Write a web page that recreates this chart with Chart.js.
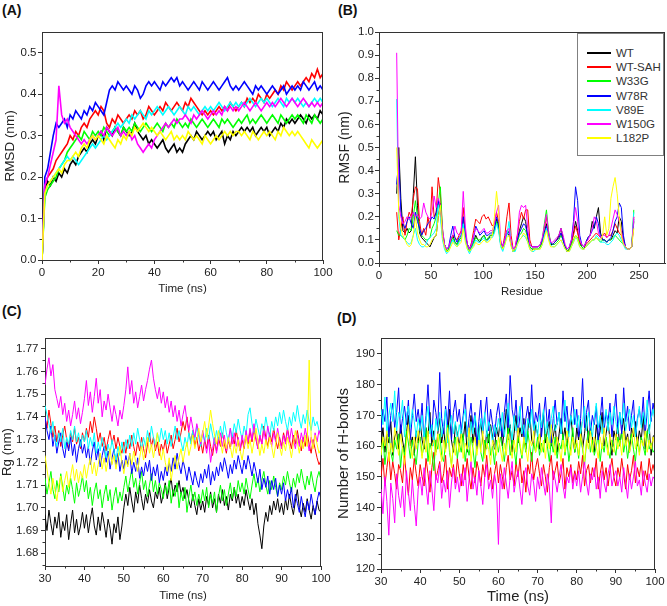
<!DOCTYPE html>
<html><head><meta charset="utf-8">
<script src="https://cdn.jsdelivr.net/npm/chart.js@4.4.0/dist/chart.umd.min.js"></script>
<style>
html,body{margin:0;padding:0;background:#fff}
body{width:667px;height:606px;position:relative;overflow:hidden;font-family:"Liberation Sans",Arial,sans-serif;color:#222}
canvas{position:absolute}
.plab{position:absolute;font-weight:bold;font-size:14px;line-height:16px;color:#111}
#legend{position:absolute;left:577px;top:33px;width:87px;height:123px;border:1px solid #808080;box-sizing:border-box;background:#fff}
.lrow{position:absolute;left:0;height:14px;width:85px}
.lline{position:absolute;left:9px;top:6px;width:24px;height:2px}
.ltxt{position:absolute;left:38px;top:0;font-size:11.5px;line-height:14px;color:#333;white-space:nowrap}
</style></head>
<body>
<div class="plab" style="left:2px;top:2px">(A)</div>
<div class="plab" style="left:338px;top:2px">(B)</div>
<div class="plab" style="left:2px;top:303px">(C)</div>
<div class="plab" style="left:337px;top:310px">(D)</div>
<canvas id="cA"></canvas>
<canvas id="cB"></canvas>
<canvas id="cC"></canvas>
<canvas id="cD"></canvas>
<div id="legend"></div>
<script>
// ---------- series ----------
const seriesNames = ['WT','WT-SAH','W33G','W78R','V89E','W150G','L182P'];
const seriesColors = ['#000000','#ff0000','#00ff00','#0000ff','#00ffff','#ff00ff','#ffff00'];

// ---------- (A) RMSD, time 0..100 ns step 1 ----------
const rmsdStart = 0, rmsdStep = 1;
const rmsdWT = [0.00,0.17,0.19,0.18,0.20,0.19,0.21,0.20,0.22,0.21,
0.23,0.24,0.23,0.25,0.26,0.27,0.26,0.28,0.29,0.28,
0.30,0.31,0.29,0.32,0.31,0.30,0.32,0.31,0.30,0.32,
0.31,0.30,0.31,0.33,0.31,0.30,0.29,0.30,0.28,0.29,
0.28,0.27,0.28,0.29,0.27,0.26,0.27,0.28,0.26,0.27,
0.26,0.28,0.29,0.30,0.29,0.31,0.30,0.29,0.30,0.31,
0.30,0.31,0.29,0.30,0.31,0.28,0.30,0.29,0.31,0.30,
0.31,0.32,0.31,0.32,0.31,0.32,0.30,0.31,0.32,0.31,
0.32,0.30,0.31,0.32,0.31,0.33,0.32,0.34,0.33,0.34,
0.33,0.34,0.35,0.34,0.33,0.35,0.34,0.35,0.34,0.36,0.35];
const rmsdWTSAH = [0.00,0.18,0.20,0.21,0.22,0.24,0.25,0.26,0.27,0.28,
0.30,0.29,0.31,0.30,0.32,0.33,0.32,0.34,0.35,0.36,
0.35,0.37,0.36,0.33,0.32,0.34,0.33,0.35,0.34,0.33,
0.34,0.35,0.34,0.36,0.35,0.36,0.34,0.35,0.37,0.36,
0.35,0.36,0.37,0.36,0.38,0.37,0.36,0.37,0.38,0.37,
0.36,0.38,0.37,0.39,0.38,0.37,0.36,0.35,0.36,0.35,
0.36,0.35,0.36,0.37,0.36,0.37,0.36,0.38,0.37,0.36,
0.37,0.38,0.37,0.39,0.38,0.39,0.38,0.40,0.39,0.38,
0.40,0.39,0.40,0.41,0.40,0.42,0.41,0.43,0.42,0.41,
0.42,0.43,0.42,0.43,0.44,0.43,0.45,0.44,0.46,0.44,0.45];
const rmsdW33G = [0.00,0.15,0.17,0.18,0.19,0.20,0.22,0.23,0.24,0.26,
0.27,0.28,0.29,0.30,0.29,0.31,0.30,0.29,0.31,0.30,
0.31,0.30,0.32,0.31,0.30,0.31,0.32,0.31,0.30,0.32,
0.31,0.32,0.31,0.33,0.32,0.31,0.32,0.33,0.32,0.31,
0.32,0.33,0.32,0.31,0.33,0.32,0.33,0.32,0.34,0.33,
0.32,0.33,0.32,0.34,0.33,0.32,0.33,0.34,0.33,0.32,
0.33,0.34,0.33,0.32,0.34,0.33,0.34,0.33,0.32,0.33,
0.34,0.33,0.34,0.35,0.33,0.34,0.33,0.34,0.35,0.34,
0.33,0.34,0.35,0.34,0.33,0.35,0.34,0.33,0.34,0.35,
0.34,0.35,0.34,0.33,0.35,0.34,0.33,0.35,0.34,0.33,0.34];
const rmsdW78R = [0.00,0.20,0.22,0.26,0.30,0.33,0.32,0.33,0.34,0.32,
0.35,0.34,0.36,0.35,0.34,0.36,0.35,0.37,0.36,0.38,
0.37,0.36,0.35,0.38,0.41,0.42,0.41,0.43,0.42,0.41,
0.42,0.41,0.40,0.42,0.41,0.39,0.40,0.42,0.43,0.42,
0.43,0.42,0.41,0.43,0.42,0.43,0.44,0.43,0.44,0.42,
0.43,0.42,0.41,0.42,0.43,0.42,0.41,0.43,0.42,0.41,
0.42,0.43,0.42,0.41,0.42,0.43,0.44,0.42,0.41,0.42,
0.41,0.42,0.43,0.42,0.41,0.40,0.42,0.41,0.42,0.41,
0.40,0.41,0.42,0.41,0.40,0.41,0.42,0.40,0.41,0.42,
0.41,0.42,0.41,0.43,0.42,0.41,0.42,0.43,0.41,0.42,0.41];
const rmsdV89E = [0.00,0.16,0.18,0.19,0.20,0.21,0.22,0.23,0.24,0.25,
0.24,0.25,0.24,0.23,0.24,0.25,0.26,0.27,0.28,0.27,
0.28,0.29,0.30,0.29,0.30,0.31,0.32,0.33,0.32,0.33,
0.34,0.33,0.35,0.34,0.35,0.36,0.35,0.34,0.36,0.35,
0.36,0.37,0.36,0.35,0.36,0.37,0.36,0.35,0.36,0.37,
0.36,0.35,0.37,0.36,0.37,0.36,0.35,0.36,0.37,0.36,
0.37,0.36,0.37,0.38,0.37,0.36,0.37,0.38,0.37,0.38,
0.37,0.38,0.37,0.38,0.39,0.38,0.37,0.38,0.39,0.38,
0.39,0.38,0.37,0.38,0.39,0.38,0.37,0.39,0.38,0.39,
0.38,0.39,0.38,0.37,0.38,0.37,0.38,0.39,0.38,0.39,0.38];
const rmsdW150G = [0.00,0.18,0.20,0.23,0.26,0.29,0.42,0.35,0.33,0.34,
0.32,0.31,0.30,0.29,0.28,0.29,0.28,0.29,0.30,0.29,
0.30,0.31,0.30,0.32,0.31,0.30,0.31,0.32,0.30,0.31,
0.30,0.31,0.29,0.30,0.28,0.27,0.26,0.27,0.28,0.27,
0.29,0.30,0.31,0.32,0.33,0.32,0.33,0.34,0.33,0.34,
0.34,0.35,0.34,0.33,0.35,0.34,0.35,0.36,0.35,0.34,
0.35,0.36,0.35,0.36,0.35,0.37,0.36,0.37,0.36,0.37,
0.36,0.37,0.38,0.37,0.36,0.37,0.38,0.37,0.36,0.37,
0.38,0.37,0.38,0.37,0.38,0.39,0.38,0.37,0.38,0.39,
0.38,0.37,0.38,0.39,0.38,0.37,0.38,0.37,0.38,0.37,0.38];
const rmsdL182P = [0.00,0.16,0.18,0.19,0.20,0.21,0.22,0.21,0.23,0.24,
0.24,0.25,0.26,0.25,0.27,0.28,0.27,0.29,0.30,0.29,
0.30,0.29,0.28,0.30,0.29,0.28,0.27,0.29,0.28,0.30,
0.29,0.31,0.30,0.32,0.31,0.32,0.33,0.32,0.31,0.32,
0.31,0.30,0.31,0.30,0.29,0.30,0.31,0.29,0.30,0.29,
0.30,0.29,0.31,0.30,0.29,0.30,0.29,0.28,0.30,0.29,
0.28,0.29,0.30,0.29,0.30,0.31,0.30,0.31,0.30,0.31,
0.31,0.30,0.31,0.30,0.29,0.31,0.30,0.29,0.30,0.31,
0.30,0.31,0.30,0.29,0.31,0.30,0.32,0.31,0.30,0.31,
0.30,0.31,0.30,0.29,0.28,0.27,0.29,0.28,0.27,0.28,0.29];

// ---------- (B) RMSF, residues 17..245 step 2 ----------
const rmsfStart = 17, rmsfStep = 2;
const rmsfWT = [0.30,0.50,0.28,0.14,0.13,0.15,0.13,0.14,0.30,0.46,
0.25,0.13,0.11,0.10,0.09,0.08,0.07,0.09,0.11,0.12,
0.20,0.26,0.13,0.08,0.05,0.06,0.09,0.12,0.09,0.08,
0.10,0.11,0.20,0.12,0.08,0.06,0.07,0.09,0.12,0.10,
0.09,0.11,0.12,0.10,0.10,0.12,0.12,0.14,0.19,0.16,
0.08,0.06,0.09,0.13,0.12,0.08,0.05,0.06,0.10,0.14,
0.17,0.20,0.18,0.11,0.07,0.06,0.06,0.06,0.06,0.07,
0.09,0.13,0.17,0.12,0.08,0.08,0.09,0.10,0.12,0.15,
0.11,0.07,0.05,0.06,0.09,0.13,0.18,0.14,0.09,0.07,
0.06,0.09,0.11,0.12,0.18,0.15,0.20,0.24,0.13,0.10,
0.10,0.09,0.10,0.10,0.12,0.14,0.13,0.20,0.18,0.10,
0.07,0.06,0.06,0.07,0.18];
const rmsfWTSAH = [0.22,0.10,0.15,0.20,0.12,0.18,0.22,0.20,0.28,0.33,
0.32,0.18,0.12,0.15,0.12,0.20,0.15,0.33,0.20,0.22,
0.37,0.30,0.14,0.08,0.05,0.06,0.10,0.12,0.11,0.10,
0.12,0.14,0.24,0.13,0.08,0.06,0.09,0.14,0.19,0.18,
0.17,0.20,0.21,0.19,0.20,0.18,0.16,0.17,0.22,0.18,
0.09,0.07,0.12,0.20,0.26,0.12,0.06,0.07,0.12,0.18,
0.22,0.19,0.23,0.23,0.10,0.07,0.07,0.07,0.07,0.08,
0.10,0.15,0.20,0.13,0.09,0.08,0.09,0.10,0.11,0.13,
0.10,0.07,0.05,0.06,0.09,0.12,0.16,0.13,0.09,0.08,
0.07,0.08,0.09,0.10,0.11,0.12,0.13,0.12,0.11,0.12,
0.13,0.11,0.12,0.12,0.14,0.17,0.15,0.13,0.12,0.09,
0.07,0.06,0.06,0.07,0.20];
const rmsfW33G = [0.14,0.12,0.12,0.11,0.10,0.12,0.15,0.14,0.20,0.27,
0.20,0.14,0.12,0.11,0.10,0.10,0.11,0.15,0.17,0.20,
0.26,0.33,0.15,0.08,0.05,0.06,0.09,0.11,0.09,0.08,
0.10,0.11,0.18,0.11,0.07,0.05,0.07,0.09,0.11,0.10,
0.10,0.11,0.12,0.10,0.11,0.12,0.12,0.14,0.18,0.15,
0.08,0.06,0.09,0.13,0.14,0.08,0.05,0.06,0.09,0.12,
0.13,0.15,0.14,0.11,0.07,0.06,0.06,0.06,0.06,0.07,
0.10,0.17,0.23,0.14,0.09,0.08,0.08,0.09,0.10,0.12,
0.10,0.07,0.05,0.06,0.08,0.10,0.12,0.11,0.08,0.07,
0.06,0.07,0.08,0.09,0.10,0.10,0.11,0.10,0.09,0.10,
0.10,0.09,0.10,0.10,0.11,0.12,0.11,0.10,0.09,0.08,
0.07,0.06,0.06,0.07,0.23];
const rmsfW78R = [0.34,0.45,0.22,0.17,0.15,0.18,0.20,0.17,0.15,0.22,
0.18,0.15,0.12,0.14,0.15,0.17,0.18,0.20,0.19,0.22,
0.27,0.22,0.12,0.08,0.06,0.07,0.12,0.16,0.11,0.09,
0.11,0.12,0.20,0.12,0.08,0.06,0.08,0.11,0.16,0.14,
0.12,0.13,0.14,0.12,0.12,0.13,0.13,0.15,0.20,0.17,
0.09,0.07,0.10,0.14,0.13,0.08,0.06,0.07,0.10,0.13,
0.15,0.17,0.16,0.12,0.08,0.07,0.07,0.07,0.07,0.08,
0.10,0.13,0.16,0.12,0.09,0.08,0.09,0.10,0.11,0.13,
0.10,0.07,0.06,0.07,0.10,0.18,0.33,0.27,0.12,0.08,
0.07,0.09,0.11,0.12,0.14,0.16,0.20,0.17,0.11,0.10,
0.10,0.09,0.10,0.11,0.14,0.18,0.20,0.26,0.24,0.12,
0.07,0.06,0.06,0.07,0.19];
const rmsfV89E = [0.71,0.20,0.12,0.11,0.10,0.09,0.08,0.09,0.12,0.15,
0.10,0.08,0.07,0.07,0.08,0.10,0.11,0.12,0.13,0.15,
0.25,0.20,0.10,0.06,0.04,0.05,0.08,0.10,0.08,0.07,
0.09,0.10,0.17,0.10,0.06,0.04,0.06,0.08,0.10,0.09,
0.09,0.10,0.11,0.09,0.10,0.11,0.11,0.13,0.17,0.14,
0.07,0.05,0.08,0.12,0.18,0.08,0.05,0.05,0.08,0.10,
0.11,0.12,0.11,0.09,0.06,0.05,0.05,0.06,0.06,0.06,
0.08,0.12,0.15,0.11,0.08,0.07,0.07,0.08,0.09,0.10,
0.08,0.06,0.05,0.05,0.07,0.09,0.11,0.10,0.07,0.06,
0.06,0.07,0.08,0.09,0.10,0.10,0.12,0.11,0.09,0.09,
0.09,0.08,0.08,0.09,0.10,0.12,0.13,0.12,0.10,0.08,
0.06,0.06,0.06,0.07,0.22];
const rmsfW150G = [0.91,0.25,0.20,0.17,0.18,0.20,0.19,0.20,0.22,0.20,
0.21,0.19,0.20,0.26,0.22,0.20,0.19,0.22,0.29,0.24,
0.28,0.25,0.15,0.08,0.06,0.07,0.10,0.12,0.16,0.13,
0.12,0.13,0.31,0.16,0.08,0.06,0.08,0.12,0.15,0.14,
0.13,0.14,0.15,0.13,0.13,0.14,0.14,0.17,0.22,0.25,
0.10,0.07,0.10,0.14,0.15,0.09,0.06,0.07,0.12,0.22,
0.25,0.24,0.25,0.15,0.08,0.07,0.07,0.07,0.07,0.08,
0.11,0.16,0.21,0.13,0.09,0.09,0.10,0.11,0.12,0.15,
0.12,0.08,0.06,0.07,0.10,0.16,0.24,0.18,0.10,0.08,
0.07,0.09,0.10,0.12,0.15,0.20,0.18,0.13,0.11,0.12,
0.12,0.11,0.12,0.15,0.19,0.23,0.21,0.18,0.14,0.09,
0.07,0.06,0.06,0.07,0.20];
const rmsfL182P = [0.50,0.22,0.15,0.12,0.10,0.08,0.07,0.08,0.12,0.20,
0.13,0.10,0.08,0.08,0.07,0.07,0.08,0.10,0.11,0.12,
0.20,0.25,0.11,0.07,0.05,0.05,0.07,0.09,0.08,0.07,
0.08,0.09,0.15,0.09,0.06,0.05,0.06,0.07,0.09,0.08,
0.08,0.09,0.10,0.09,0.09,0.10,0.12,0.20,0.31,0.22,
0.08,0.06,0.08,0.11,0.12,0.07,0.05,0.06,0.08,0.10,
0.11,0.13,0.12,0.09,0.06,0.05,0.06,0.06,0.06,0.06,
0.08,0.11,0.14,0.10,0.07,0.07,0.07,0.08,0.09,0.10,
0.08,0.06,0.05,0.05,0.07,0.09,0.12,0.10,0.07,0.06,
0.06,0.07,0.08,0.09,0.10,0.10,0.11,0.10,0.10,0.12,
0.20,0.12,0.15,0.28,0.33,0.37,0.30,0.20,0.12,0.08,
0.07,0.06,0.06,0.07,0.15];

// ---------- (C) Rg, time 30..100 ns step 0.5 ----------
const rgStart = 30, rgStep = 0.5;
const rgWT = [1.697,1.690,1.699,1.693,1.688,1.696,1.691,1.698,1.687,1.694,1.690,1.697,1.686,1.693,1.699,1.689,1.695,1.688,1.692,1.698,
1.691,1.697,1.689,1.695,1.700,1.692,1.688,1.696,1.690,1.698,1.693,1.687,1.695,1.691,1.684,1.693,1.689,1.696,1.686,1.692,
1.700,1.706,1.701,1.709,1.703,1.698,1.707,1.702,1.710,1.704,1.699,1.706,1.702,1.708,1.703,1.700,1.707,1.704,1.709,1.702,
1.706,1.711,1.704,1.709,1.713,1.705,1.710,1.707,1.712,1.706,1.709,1.704,1.708,1.703,1.700,1.706,1.701,1.697,1.704,1.699,
1.703,1.698,1.705,1.701,1.707,1.700,1.704,1.698,1.706,1.702,1.708,1.701,1.705,1.699,1.706,1.703,1.709,1.702,1.706,1.700,
1.705,1.701,1.708,1.703,1.699,1.704,1.697,1.702,1.693,1.688,1.682,1.692,1.698,1.694,1.701,1.697,1.703,1.699,1.704,1.698,
1.702,1.697,1.704,1.699,1.706,1.701,1.697,1.703,1.708,1.700,1.696,1.702,1.698,1.704,1.699,1.695,1.701,1.697,1.703,1.699,1.698];
const rgWTSAH = [1.740,1.735,1.743,1.737,1.731,1.736,1.729,1.734,1.727,1.732,1.736,1.730,1.726,1.733,1.729,1.735,1.728,1.731,1.726,1.733,
1.729,1.735,1.731,1.738,1.733,1.740,1.735,1.729,1.733,1.727,1.731,1.725,1.730,1.734,1.728,1.732,1.726,1.731,1.727,1.724,
1.729,1.724,1.730,1.726,1.732,1.727,1.723,1.729,1.725,1.731,1.726,1.722,1.728,1.733,1.727,1.731,1.725,1.729,1.723,1.728,
1.725,1.730,1.724,1.728,1.732,1.726,1.730,1.735,1.729,1.733,1.738,1.734,1.740,1.733,1.729,1.734,1.727,1.731,1.725,1.729,
1.724,1.730,1.726,1.732,1.727,1.723,1.729,1.725,1.731,1.727,1.733,1.728,1.724,1.730,1.726,1.732,1.728,1.734,1.729,1.725,
1.730,1.726,1.732,1.728,1.734,1.729,1.735,1.730,1.726,1.732,1.728,1.736,1.731,1.727,1.733,1.729,1.735,1.730,1.726,1.731,
1.727,1.733,1.729,1.735,1.730,1.726,1.732,1.728,1.734,1.729,1.725,1.731,1.727,1.733,1.728,1.724,1.730,1.726,1.722,1.719,1.721];
const rgW33G = [1.713,1.706,1.711,1.716,1.708,1.704,1.712,1.707,1.715,1.709,1.703,1.710,1.706,1.713,1.708,1.702,1.711,1.705,1.709,1.714,
1.707,1.712,1.704,1.709,1.701,1.707,1.711,1.704,1.708,1.700,1.706,1.710,1.703,1.708,1.699,1.705,1.709,1.702,1.707,1.703,
1.709,1.714,1.707,1.712,1.717,1.709,1.713,1.706,1.711,1.716,1.708,1.712,1.705,1.710,1.715,1.707,1.712,1.706,1.711,1.708,
1.704,1.710,1.706,1.712,1.702,1.708,1.705,1.711,1.700,1.707,1.703,1.709,1.698,1.705,1.710,1.703,1.707,1.701,1.706,1.702,
1.708,1.703,1.709,1.700,1.706,1.702,1.707,1.698,1.705,1.710,1.703,1.708,1.701,1.706,1.711,1.704,1.709,1.705,1.712,1.707,
1.711,1.706,1.713,1.708,1.704,1.710,1.715,1.709,1.713,1.707,1.712,1.716,1.710,1.706,1.712,1.708,1.714,1.709,1.705,1.711,
1.708,1.714,1.710,1.716,1.711,1.707,1.713,1.709,1.715,1.711,1.717,1.712,1.708,1.714,1.710,1.716,1.711,1.707,1.713,1.716,1.712];
const rgW78R = [1.740,1.734,1.730,1.736,1.727,1.732,1.724,1.729,1.733,1.726,1.722,1.729,1.725,1.731,1.723,1.728,1.720,1.726,1.730,1.724,
1.728,1.722,1.727,1.719,1.725,1.729,1.721,1.726,1.718,1.723,1.727,1.720,1.725,1.717,1.722,1.726,1.719,1.724,1.716,1.721,
1.717,1.723,1.719,1.724,1.715,1.720,1.716,1.722,1.713,1.718,1.714,1.720,1.716,1.721,1.712,1.718,1.714,1.719,1.711,1.716,
1.712,1.718,1.714,1.720,1.716,1.722,1.717,1.724,1.719,1.715,1.721,1.717,1.712,1.718,1.714,1.710,1.716,1.712,1.709,1.715,
1.711,1.717,1.713,1.719,1.710,1.716,1.712,1.718,1.714,1.720,1.716,1.722,1.718,1.713,1.719,1.715,1.721,1.717,1.723,1.719,
1.715,1.721,1.717,1.723,1.719,1.714,1.720,1.716,1.711,1.717,1.708,1.713,1.709,1.714,1.706,1.712,1.708,1.713,1.705,1.710,
1.706,1.711,1.703,1.708,1.704,1.709,1.700,1.706,1.702,1.698,1.705,1.700,1.696,1.703,1.699,1.706,1.701,1.697,1.703,1.707,1.704];
const rgV89E = [1.745,1.741,1.737,1.733,1.738,1.730,1.727,1.733,1.729,1.735,1.726,1.731,1.728,1.734,1.730,1.736,1.729,1.733,1.727,1.732,
1.729,1.734,1.726,1.731,1.727,1.733,1.724,1.729,1.725,1.731,1.727,1.722,1.728,1.724,1.730,1.725,1.721,1.727,1.723,1.729,
1.724,1.730,1.726,1.732,1.727,1.733,1.728,1.735,1.730,1.726,1.731,1.727,1.734,1.729,1.736,1.731,1.727,1.733,1.729,1.735,
1.730,1.734,1.728,1.733,1.727,1.731,1.736,1.730,1.734,1.729,1.725,1.731,1.727,1.733,1.728,1.734,1.730,1.736,1.731,1.727,
1.733,1.729,1.735,1.730,1.737,1.732,1.728,1.734,1.730,1.736,1.731,1.738,1.733,1.729,1.735,1.731,1.737,1.733,1.739,1.734,
1.730,1.736,1.732,1.741,1.744,1.737,1.733,1.739,1.735,1.731,1.737,1.733,1.740,1.735,1.731,1.738,1.734,1.740,1.736,1.742,
1.737,1.743,1.738,1.734,1.740,1.736,1.742,1.738,1.745,1.739,1.735,1.741,1.737,1.743,1.738,1.734,1.740,1.736,1.738,1.734,1.733];
const rgW150G = [1.754,1.761,1.766,1.758,1.763,1.752,1.748,1.744,1.749,1.741,1.746,1.738,1.743,1.736,1.741,1.747,1.739,1.744,1.737,1.742,
1.748,1.756,1.745,1.751,1.742,1.749,1.757,1.746,1.752,1.740,1.747,1.743,1.750,1.744,1.738,1.745,1.741,1.736,1.743,1.739,
1.745,1.752,1.762,1.750,1.756,1.746,1.751,1.744,1.749,1.754,1.747,1.752,1.756,1.761,1.765,1.757,1.752,1.748,1.753,1.746,
1.751,1.744,1.749,1.742,1.747,1.740,1.745,1.738,1.743,1.736,1.741,1.745,1.738,1.734,1.740,1.735,1.731,1.737,1.733,1.728,
1.734,1.729,1.724,1.730,1.720,1.726,1.731,1.724,1.729,1.733,1.727,1.732,1.725,1.730,1.735,1.728,1.733,1.727,1.731,1.726,
1.732,1.727,1.734,1.729,1.735,1.730,1.737,1.731,1.726,1.732,1.728,1.734,1.729,1.736,1.731,1.727,1.733,1.729,1.735,1.730,
1.726,1.732,1.728,1.734,1.729,1.735,1.730,1.726,1.732,1.727,1.733,1.729,1.735,1.730,1.725,1.731,1.727,1.733,1.729,1.734,1.731];
const rgL182P = [1.723,1.717,1.711,1.706,1.713,1.708,1.703,1.710,1.714,1.707,1.712,1.716,1.709,1.714,1.719,1.712,1.717,1.711,1.716,1.713,
1.719,1.713,1.718,1.722,1.715,1.720,1.714,1.719,1.724,1.717,1.722,1.716,1.721,1.726,1.719,1.723,1.717,1.722,1.727,1.720,
1.715,1.721,1.718,1.724,1.719,1.725,1.720,1.716,1.722,1.727,1.721,1.726,1.731,1.724,1.728,1.722,1.727,1.733,1.726,1.721,
1.726,1.720,1.716,1.722,1.712,1.718,1.723,1.717,1.722,1.726,1.720,1.725,1.729,1.723,1.727,1.732,1.726,1.730,1.735,1.729,
1.733,1.738,1.731,1.736,1.743,1.737,1.732,1.728,1.734,1.729,1.724,1.730,1.726,1.731,1.727,1.722,1.728,1.724,1.730,1.725,
1.721,1.727,1.732,1.726,1.730,1.724,1.729,1.735,1.729,1.723,1.728,1.724,1.730,1.726,1.731,1.727,1.722,1.728,1.733,1.727,
1.723,1.729,1.725,1.731,1.727,1.722,1.728,1.734,1.729,1.724,1.730,1.726,1.732,1.727,1.765,1.731,1.726,1.732,1.728,1.724,1.726];

// ---------- (D) H-bonds, time 30..100 ns step 0.5 ----------
const hbStart = 30, hbStep = 0.5;
const hbWT = [160,166,158,164,161,168,157,163,165,159,167,162,158,164,170,160,163,157,165,161,
168,162,159,166,163,171,160,165,158,164,169,161,166,159,163,172,162,158,167,164,
160,165,162,168,158,163,170,161,166,159,164,168,162,157,165,161,167,163,159,166,
163,169,160,165,172,162,167,158,164,170,161,166,163,169,159,165,171,162,160,167,
164,159,166,171,161,165,168,160,163,167,158,164,169,162,166,160,165,170,163,158,
166,162,168,159,164,170,161,166,163,158,167,162,165,171,160,164,168,162,157,165,
162,167,160,165,169,161,164,158,166,163,168,160,165,162,170,159,164,167,157,163,164];
const hbWTSAH = [150,156,147,153,158,149,155,151,146,154,152,148,157,150,144,153,149,156,151,147,
154,150,147,156,151,145,153,158,149,152,155,148,151,157,146,153,150,154,148,156,
151,147,154,149,156,150,146,153,148,155,152,147,154,150,157,149,153,146,151,155,
148,154,150,146,153,157,149,152,147,155,150,156,148,152,145,154,151,158,149,153,
156,151,147,154,150,145,153,157,149,152,155,148,151,156,146,153,150,154,148,152,
149,155,151,157,147,152,154,148,153,150,156,146,151,155,149,153,147,152,156,150,
147,153,150,156,151,146,154,149,152,157,148,153,150,155,147,152,149,156,151,154,151];
const hbW33G = [157,163,154,160,166,158,155,162,159,164,153,160,157,165,161,156,162,158,154,161,
163,157,160,166,155,161,158,152,162,159,164,157,155,161,167,158,154,160,163,156,
161,158,164,155,160,157,163,159,153,161,166,158,155,162,159,164,157,160,154,162,
158,163,160,155,161,166,157,162,159,154,163,160,156,162,158,165,160,155,161,158,
163,157,161,158,165,160,155,162,158,163,156,161,159,164,157,162,155,160,166,158,
161,156,163,159,154,161,165,158,162,157,160,164,155,161,158,163,159,156,162,160,
157,163,160,165,158,162,156,161,164,159,155,162,158,163,160,157,165,159,161,158,159];
const hbW78R = [165,172,168,176,163,170,174,166,171,179,164,169,173,167,175,162,170,177,168,172,
166,174,161,170,180,168,163,175,171,166,184,169,164,173,167,178,162,171,175,168,
172,165,170,177,163,169,174,166,171,160,168,175,164,170,176,165,172,167,163,170,
174,168,163,171,177,166,183,172,168,175,164,170,176,162,169,173,167,180,165,171,
168,174,163,170,176,166,172,161,169,175,167,171,164,178,168,173,165,170,176,167,
172,163,169,182,166,171,175,164,170,167,173,162,169,176,165,171,168,174,163,170,
177,166,171,164,179,168,173,165,170,175,163,169,172,167,176,164,171,178,168,174,170];
const hbV89E = [172,167,176,164,170,174,168,178,165,171,169,175,163,170,173,166,172,168,163,169,
165,170,162,168,173,164,167,160,169,165,171,163,167,172,161,166,170,164,168,162,
167,163,169,172,165,160,168,164,170,166,162,169,165,171,163,168,166,161,167,164,
169,165,171,163,168,174,166,162,170,165,168,173,164,167,161,169,166,172,165,168,
163,170,166,172,164,168,161,169,173,165,167,171,164,169,175,166,163,170,167,172,
166,170,164,168,173,165,171,167,163,169,174,166,170,164,168,172,165,171,167,173,
168,164,171,167,174,165,169,172,166,170,163,168,173,166,171,167,175,164,169,172,168];
const hbW150G = [146,138,150,142,131,148,143,135,151,144,140,147,137,152,145,139,149,141,134,146,
150,144,153,147,141,152,146,139,151,148,154,143,149,145,152,140,148,153,146,150,
145,151,147,153,142,149,155,146,150,144,152,147,141,150,154,146,149,143,151,147,
128,151,146,153,148,143,150,155,145,149,152,146,141,150,153,147,144,151,148,142,
150,146,153,148,144,151,147,135,152,149,145,150,154,147,143,150,148,153,146,151,
147,152,145,150,155,148,144,151,149,153,146,150,143,152,148,145,151,154,147,150,
152,147,150,145,153,148,143,151,146,150,155,147,149,144,152,148,145,151,147,150,149];
const hbL182P = [157,163,160,165,155,161,158,166,162,157,164,159,154,161,167,160,156,163,159,165,
161,156,163,158,165,154,160,162,157,164,159,155,162,158,166,160,153,161,157,163,
158,164,156,161,159,166,155,160,163,157,162,158,165,156,161,159,154,162,160,157,
163,159,155,161,157,164,160,156,162,158,166,161,157,163,159,155,162,160,165,158,
160,164,158,162,156,163,159,167,161,157,163,160,155,162,158,165,161,157,163,159,
162,157,164,160,155,162,159,165,158,163,160,156,163,159,166,161,157,164,160,158,
164,159,162,157,165,160,163,158,161,166,159,163,157,162,160,165,158,162,159,163,160];

// ---------- axis ticks ----------
const ticksAx = [0,20,40,60,80,100];
const minorAx = [10,30,50,70,90];
const ticksAy = [0,0.1,0.2,0.3,0.4,0.5];
const minorAy = [0.05,0.15,0.25,0.35,0.45];
const ticksBx = [0,50,100,150,200,250];
const minorBx = [25,75,125,175,225];
const ticksBy = [0,0.1,0.2,0.3,0.4,0.5,0.6,0.7,0.8,0.9,1.0];
const minorBy = [0.05,0.15,0.25,0.35,0.45,0.55,0.65,0.75,0.85,0.95];
const ticksCx = [30,40,50,60,70,80,90,100];
const minorCx = [35,45,55,65,75,85,95];
const ticksCy = [1.68,1.69,1.70,1.71,1.72,1.73,1.74,1.75,1.76,1.77];
const minorCy = [1.675,1.685,1.695,1.705,1.715,1.725,1.735,1.745,1.755,1.765];
const ticksDx = [30,40,50,60,70,80,90,100];
const minorDx = [35,45,55,65,75,85,95];
const ticksDy = [120,130,140,150,160,170,180,190];
const minorDy = [125,135,145,155,165,175,185];

// ---------- helpers ----------
Chart.defaults.font.family = '"Liberation Sans", Arial, sans-serif';
Chart.defaults.color = '#222';

const framePlugin = {
  id: 'frame',
  afterDraw(chart, args, o) {
    const {ctx, chartArea: a, scales} = chart;
    ctx.save();
    ctx.strokeStyle = '#333';
    ctx.lineWidth = 1;
    ctx.beginPath();
    ctx.moveTo(a.left, a.top + 0.5); ctx.lineTo(a.right, a.top + 0.5);
    ctx.moveTo(a.right - 0.5, a.top); ctx.lineTo(a.right - 0.5, a.bottom);
    o.minorX.forEach(v => {
      const x = Math.round(scales.x.getPixelForValue(v)) + 0.5;
      ctx.moveTo(x, a.bottom); ctx.lineTo(x, a.bottom + 2.5);
    });
    o.minorY.forEach(v => {
      const y = Math.round(scales.y.getPixelForValue(v)) + 0.5;
      ctx.moveTo(a.left, y); ctx.lineTo(a.left - 2.5, y);
    });
    ctx.stroke();
    ctx.restore();
  }
};

function toPoints(start, step, arr) {
  return arr.map((v, i) => ({x: start + i * step, y: v}));
}

function makePanel(id, box, area, cfg) {
  const cv = document.getElementById(id);
  cv.width = box.w; cv.height = box.h;
  cv.style.left = box.left + 'px'; cv.style.top = box.top + 'px';
  cv.style.width = box.w + 'px'; cv.style.height = box.h + 'px';
  const yW = area.l - box.left;
  const xH = box.top + box.h - area.b;
  const xTitleOff = box.top + box.h - cfg.xTitleY;
  const yTitleOff = cfg.yTitleX - box.left;
  const datasets = cfg.series.map((arr, i) => ({
    label: seriesNames[i],
    data: toPoints(cfg.start, cfg.step, arr),
    borderColor: seriesColors[i],
    backgroundColor: seriesColors[i],
    borderWidth: cfg.lineWidth,
    pointRadius: 0,
    tension: 0,
    fill: false,
    order: seriesNames.length - 1 - i
  }));
  return new Chart(cv, {
    type: 'line',
    data: {datasets},
    plugins: [framePlugin],
    options: {
      responsive: false,
      animation: false,
      devicePixelRatio: 1,
      layout: {padding: {left: 0, top: area.t - box.top, right: box.left + box.w - area.r, bottom: 0}},
      plugins: {
        legend: {display: false},
        tooltip: {enabled: false},
        frame: {minorX: cfg.minorX, minorY: cfg.minorY}
      },
      scales: {
        x: {
          type: 'linear', min: cfg.xMin, max: cfg.xMax,
          afterBuildTicks: s => { s.ticks = cfg.ticksX.map(v => ({value: v})); },
          afterFit: s => { s.height = xH; },
          grid: {display: true, drawOnChartArea: false, drawTicks: true, tickLength: 4, color: '#333'},
          border: {display: true, color: '#333', width: 1},
          ticks: {autoSkip: false, maxRotation: 0, padding: 2, font: {size: 11.5}, color: '#222',
                  callback: v => cfg.fmtX(v)},
          title: {display: true, text: cfg.xTitle, color: '#222',
                  font: {size: cfg.xTitleSize, lineHeight: 1},
                  padding: {top: Math.max(0, xTitleOff - cfg.xTitleSize / 2), bottom: Math.max(0, xTitleOff - cfg.xTitleSize / 2)}}
        },
        y: {
          type: 'linear', min: cfg.yMin, max: cfg.yMax,
          afterBuildTicks: s => { s.ticks = cfg.ticksY.map(v => ({value: v})); },
          afterFit: s => { s.width = yW; },
          grid: {display: true, drawOnChartArea: false, drawTicks: true, tickLength: 4, color: '#333'},
          border: {display: true, color: '#333', width: 1},
          ticks: {autoSkip: false, padding: cfg.yTickPad, font: {size: 11.5}, color: '#222',
                  callback: v => cfg.fmtY(v)},
          title: {display: true, text: cfg.yTitle, color: '#222',
                  font: {size: cfg.yTitleSize, lineHeight: 1},
                  padding: {top: Math.max(0, yTitleOff - cfg.yTitleSize / 2), bottom: Math.max(0, yTitleOff - cfg.yTitleSize / 2)}}
        }
      }
    }
  });
}

makePanel('cA', {left: 0, top: 0, w: 336, h: 300}, {l: 42, t: 32, r: 323, b: 260}, {
  series: [rmsdWT, rmsdWTSAH, rmsdW33G, rmsdW78R, rmsdV89E, rmsdW150G, rmsdL182P],
  start: rmsdStart, step: rmsdStep, lineWidth: 1.6,
  xMin: 0, xMax: 100, yMin: 0, yMax: 0.55,
  ticksX: ticksAx, ticksY: ticksAy, minorX: minorAx, minorY: minorAy,
  fmtX: v => String(v), fmtY: v => v.toFixed(1),
  xTitle: 'Time (ns)', xTitleY: 289, xTitleSize: 11.6,
  yTitle: 'RMSD (nm)', yTitleX: 10, yTitleSize: 13.5, yTickPad: 1.5
});

makePanel('cB', {left: 336, top: 0, w: 331, h: 300}, {l: 379, t: 32, r: 665, b: 263}, {
  series: [rmsfWT, rmsfWTSAH, rmsfW33G, rmsfW78R, rmsfV89E, rmsfW150G, rmsfL182P],
  start: rmsfStart, step: rmsfStep, lineWidth: 1,
  xMin: 0, xMax: 275, yMin: 0, yMax: 1.0,
  ticksX: ticksBx, ticksY: ticksBy, minorX: minorBx, minorY: minorBy,
  fmtX: v => String(v), fmtY: v => v.toFixed(1),
  xTitle: 'Residue', xTitleY: 292, xTitleSize: 11.4,
  yTitle: 'RMSF (nm)', yTitleX: 345, yTitleSize: 14, yTickPad: 1
});

makePanel('cC', {left: 0, top: 300, w: 336, h: 306}, {l: 45, t: 338, r: 321, b: 566}, {
  series: [rgWT, rgWTSAH, rgW33G, rgW78R, rgV89E, rgW150G, rgL182P],
  start: rgStart, step: rgStep, lineWidth: 1,
  xMin: 30, xMax: 100, yMin: 1.6744, yMax: 1.7747,
  ticksX: ticksCx, ticksY: ticksCy, minorX: minorCx, minorY: minorCy,
  fmtX: v => String(v), fmtY: v => v.toFixed(2),
  xTitle: 'Time (ns)', xTitleY: 596, xTitleSize: 11.4,
  yTitle: 'Rg (nm)', yTitleX: 7, yTitleSize: 13.3, yTickPad: 2.5
});

makePanel('cD', {left: 336, top: 300, w: 331, h: 306}, {l: 381, t: 338, r: 655, b: 569}, {
  series: [hbWT, hbWTSAH, hbW33G, hbW78R, hbV89E, hbW150G, hbL182P],
  start: hbStart, step: hbStep, lineWidth: 1,
  xMin: 30, xMax: 100, yMin: 120, yMax: 195.2,
  ticksX: ticksDx, ticksY: ticksDy, minorX: minorDx, minorY: minorDy,
  fmtX: v => String(v), fmtY: v => String(v),
  xTitle: 'Time (ns)', xTitleY: 597, xTitleSize: 14.8,
  yTitle: 'Number of H-bonds', yTitleX: 343, yTitleSize: 15, yTickPad: 2
});

// ---------- legend for (B) ----------
const leg = document.getElementById('legend');
seriesNames.forEach((name, i) => {
  const row = document.createElement('div');
  row.className = 'lrow';
  row.style.top = Math.round(12 + i * 14.2) + 'px';
  const ln = document.createElement('div');
  ln.className = 'lline';
  ln.style.backgroundColor = seriesColors[i];
  const tx = document.createElement('div');
  tx.className = 'ltxt';
  tx.textContent = name;
  row.appendChild(ln); row.appendChild(tx);
  leg.appendChild(row);
});
</script>
</body></html>
